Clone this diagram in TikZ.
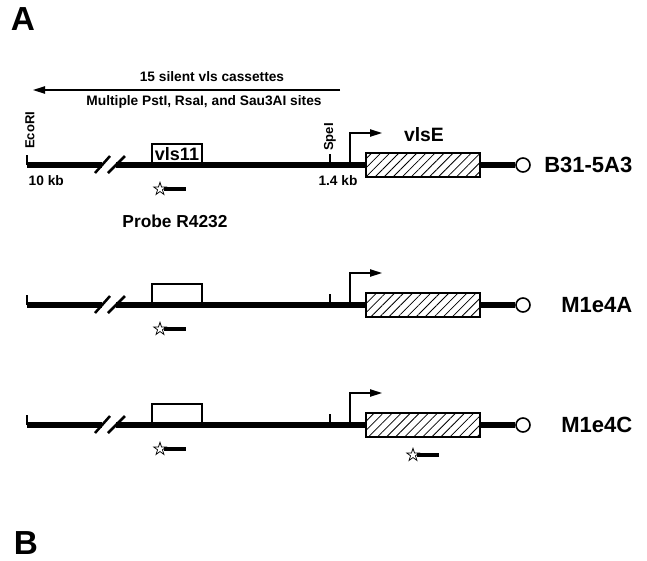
\documentclass[tikz,border=0pt]{standalone}
\usepackage{fontspec}
\setmainfont{Liberation Sans}
\usetikzlibrary{arrows.meta,shapes.geometric,patterns.meta}

\begin{document}
\begin{tikzpicture}[
    x=0.75pt, y=-0.75pt,
    dna/.style={line width=3.9pt},
    tick/.style={line width=1.2pt},
    brk/.style={line width=1.9pt},
    arrow/.style={line width=1.1pt, -{Triangle[length=9pt,width=5.5pt]}},
    cassette/.style={rectangle, draw, line width=1.3pt, fill=white, minimum width=38pt, minimum height=16pt, inner sep=0pt, font=\bfseries\fontsize{13.5}{14}\selectfont},
    gene/.style={rectangle, draw, line width=1.3pt, preaction={fill=white}, pattern={Lines[angle=45,distance=4.8pt,line width=0.6pt]}, minimum width=85.5pt, minimum height=18pt, inner sep=0pt},
    telo/.style={circle, draw, line width=1.2pt, fill=white, minimum size=10.5pt, inner sep=0pt},
    probestar/.style={star, star points=5, star point ratio=2.6, draw, line width=0.55pt, minimum size=10pt, inner sep=0pt},
    probe/.style={line width=3pt},
    strain/.style={font=\bfseries\fontsize{16.5}{18}\selectfont},
    small/.style={font=\bfseries\fontsize{10.3}{12}\selectfont},
    site/.style={font=\bfseries\fontsize{9.8}{11}\selectfont, rotate=90, anchor=west, inner sep=0pt},
    panel/.style={font=\bfseries\fontsize{25}{28}\selectfont}
]
\useasboundingbox (0,0) rectangle (647,561);

% Panel letters
\node[panel] (pA) at (23,19) {A};
\node[panel] (pB) at (26,543) {B};

% The three vls loci
\foreach \r/\y/\name/\cas in {1/165/B31-5A3/vls11, 2/305/M1e4A/{}, 3/425/M1e4C/{}}{
  \coordinate (l\r) at (27,\y);
  \coordinate (b\r) at (102,\y);
  \coordinate (c\r) at (116,\y);
  \coordinate (p\r) at (350,\y);
  \node[cassette] (v\r) at (177,\y-10.5) {\cas};
  \node[gene] (g\r) at (423,\y) {};
  \node[telo] (t\r) at (523,\y) {};
  \node[strain, anchor=east] (n\r) at (637,\y) {\name};
  \node[probestar] (s\r) at (160,\y+24) {};
  % line with break
  \draw[dna] (l\r) -- (b\r);
  \draw[dna] (c\r) -- (g\r.west);
  \draw[dna] (g\r.east) -- (t\r.west);
  \draw[brk] (95,\y+8) -- (110,\y-9);
  \draw[brk] (108,\y+8) -- (125,\y-9);
  % EcoRI and SpeI ticks, promoter
  \draw[tick] (l\r) -- ++(0,-10);
  \draw[tick] (330,\y) -- ++(0,-11);
  \draw[arrow] (p\r) -- ++(0,-32) -- ++(32,0);
  % probe
  \draw[probe] (s\r) ++(4,0) -- ++(22,0);
}

% Extra probe site in the expression site of M1e4C
\node[probestar] (s4) at (413,455) {};
\draw[probe] (s4) ++(4,0) -- ++(22,0);

% Annotations of B31-5A3
\coordinate (silR) at (340,90);
\coordinate (silL) at (33,90);
\draw[arrow] (silR) -- (silL);
\node[small] (sil) at (212,77) {15 silent vls cassettes};
\node[small] (sites) at (204,102) {Multiple PstI, RsaI, and Sau3AI sites};
\node[site] (eco) at (30,149) {EcoRI};
\node[site] (spe) at (330,151) {SpeI};
\node[small, anchor=west] (kb10) at (24,181) {10 kb};
\node[small] (kb14) at (338,181) {1.4 kb};
\node[font=\bfseries\fontsize{14.5}{16}\selectfont] (vlsE) at (424,135) {vlsE};
\node[font=\bfseries\fontsize{13}{15}\selectfont] (probe) at (175,221) {Probe R4232};

\end{tikzpicture}
\end{document}
